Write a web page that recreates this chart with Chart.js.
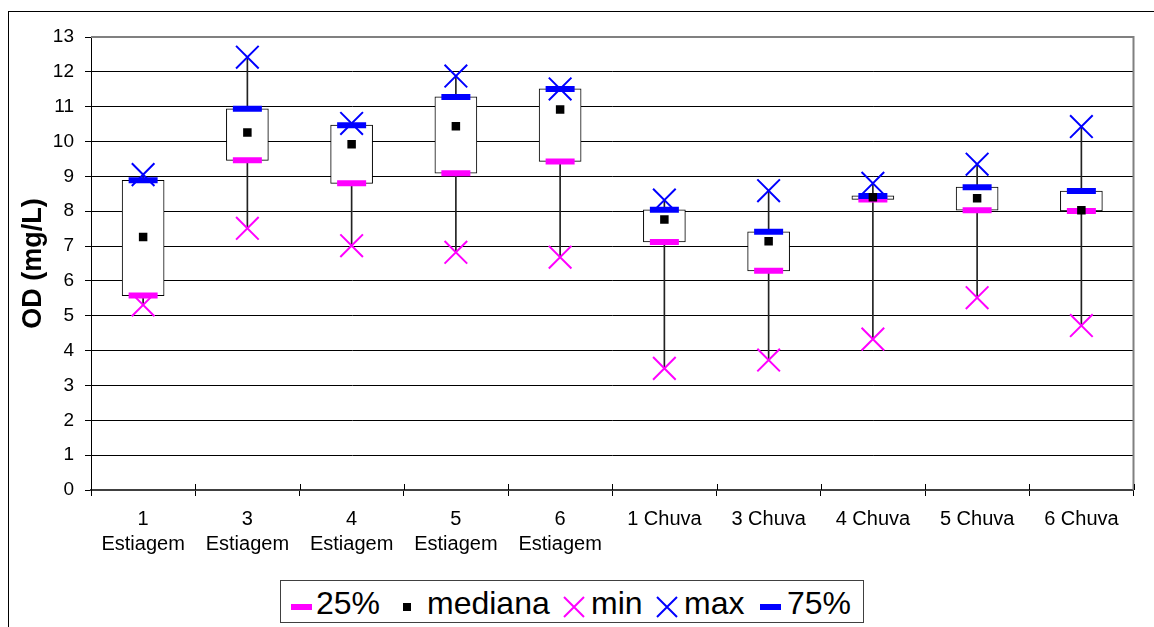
<!DOCTYPE html>
<html>
<head>
<meta charset="utf-8">
<script src="https://cdn.jsdelivr.net/npm/chart.js@4.4.1/dist/chart.umd.min.js"></script>
<style>
  html, body { margin:0; padding:0; background:#fff; }
  #wrap { position:relative; width:1154px; height:627px; overflow:hidden; font-family:'Liberation Sans', Arial, sans-serif; }
  #frame { position:absolute; left:8px; top:11px; width:1200px; height:700px; border-left:1px solid #000; border-top:1px solid #000; }
  canvas { position:absolute; left:0; top:0; }
  #legend { position:absolute; left:280px; top:580px; width:582px; height:41px; border:1px solid #404040; background:#fff; }
  #legend .t { position:absolute; top:0; height:41px; line-height:45px; font-size:32px; color:#000; white-space:nowrap; }
  #legend .dash { position:absolute; height:6px; top:23px; width:21px; }
  #legend .sq { position:absolute; width:8px; height:8px; top:22px; left:122px; background:#000; }
  #legend svg { position:absolute; top:15px; }
</style>
</head>
<body>
<div id="wrap">
  <div id="frame"></div>
  <canvas id="c" width="1154" height="627"></canvas>
  <div id="legend">
    <div class="dash" style="left:10px;background:#ff00ff"></div>
    <div class="t" style="left:35px">25%</div>
    <div class="sq"></div>
    <div class="t" style="left:146px">mediana</div>
    <svg style="left:282px" width="22" height="22"><path d="M1 1L21 21M21 1L1 21" stroke="#ff00ff" stroke-width="2"/></svg>
    <div class="t" style="left:310px">min</div>
    <svg style="left:375px" width="22" height="22"><path d="M1 1L21 21M21 1L1 21" stroke="#0000ff" stroke-width="2"/></svg>
    <div class="t" style="left:403px">max</div>
    <div class="dash" style="left:479px;background:#0000ff"></div>
    <div class="t" style="left:506px">75%</div>
  </div>
</div>
<script>
const categories = [['1','Estiagem'],['3','Estiagem'],['4','Estiagem'],['5','Estiagem'],['6','Estiagem'],'1 Chuva','3 Chuva','4 Chuva','5 Chuva','6 Chuva'];
const minValues    = [5.31, 7.51, 7.01, 6.82, 6.68, 3.49, 3.73, 4.33, 5.52, 4.72];
const q25Values    = [5.58, 9.46, 8.80, 9.09, 9.43, 7.12, 6.29, 8.34, 8.03, 8.01];
const medianValues = [7.26, 10.26, 9.92, 10.44, 10.92, 7.76, 7.14, 8.40, 8.37, 8.03];
const q75Values    = [8.89, 10.94, 10.47, 11.28, 11.51, 8.04, 7.41, 8.44, 8.69, 8.58];
const maxValues    = [9.05, 12.42, 10.52, 11.88, 11.51, 8.32, 8.59, 8.80, 9.35, 10.43];
const yTicks = [0,1,2,3,4,5,6,7,8,9,10,11,12,13];

const FONT = "'Liberation Sans', Arial, sans-serif";

const plotFrame = {
  id: 'plotFrame',
  beforeDatasetsDraw(chart) {
    const {ctx, chartArea:{left,right,top,bottom}} = chart;
    ctx.save();
    ctx.strokeStyle = '#808080';
    ctx.lineWidth = 2;
    ctx.beginPath();
    ctx.moveTo(left, top); ctx.lineTo(right, top); ctx.lineTo(right, bottom);
    ctx.stroke();
    const n = chart.scales.x.ticks.length;
    const step = (right - left) / n;
    ctx.strokeStyle = '#000';
    ctx.lineWidth = 1;
    ctx.beginPath();
    for (let i = 0; i <= n; i++) {
      const x = Math.round(left + i * step) + 0.5;
      ctx.moveTo(x, bottom - 6); ctx.lineTo(x, bottom);
    }
    ctx.stroke();
    ctx.restore();
  }
};

const pointDs = (label, data, style, color, radius, bw, order) => ({
  type: 'line', label, data, showLine: false, order,
  pointStyle: style, pointRadius: radius, pointHoverRadius: radius,
  pointBorderWidth: bw, pointHoverBorderWidth: bw,
  pointBorderColor: color, pointBackgroundColor: color,
  borderColor: color, backgroundColor: color
});

new Chart(document.getElementById('c'), {
  data: {
    labels: categories,
    datasets: [
      { type:'bar', label:'whisker', data: minValues.map((v,i)=>[v, maxValues[i]]),
        backgroundColor:'#222', borderWidth:0, barThickness:1, grouped:false, order:20 },
      { type:'bar', label:'box', data: q25Values.map((v,i)=>[v, q75Values[i]]),
        backgroundColor:'#fff', borderColor:'#000', borderWidth:1, borderSkipped:false,
        barThickness:42, grouped:false, order:19 },
      pointDs('25%', q25Values, 'line', '#ff00ff', 14.5, 6, 5),
      pointDs('75%', q75Values, 'line', '#0000ff', 14.5, 6, 4),
      pointDs('mediana', medianValues, 'rect', '#000', 6, 0, 3),
      pointDs('min', minValues, 'crossRot', '#ff00ff', 16, 2, 2),
      pointDs('max', maxValues, 'crossRot', '#0000ff', 16, 2, 1)
    ]
  },
  options: {
    responsive: false,
    animation: false,
    events: [],
    layout: { padding: { left: 10, top: 37, right: 19, bottom: 57 } },
    plugins: { legend: { display:false }, tooltip: { enabled:false } },
    scales: {
      x: {
        type: 'category', offset: true,
        grid: { display:true, drawOnChartArea:false, offset:true, tickLength:6, color:'#000' },
        border: { display:true, color:'#404040', width:2 },
        ticks: { autoSkip:false, maxRotation:0, minRotation:0, padding:11, color:'#000',
                 font: { family: FONT, size: 20, lineHeight: 1.25 } },
        afterFit(s) { s.height = 80; }
      },
      y: {
        min: 0, max: 13,
        afterBuildTicks(s) { s.ticks = yTicks.map(v => ({ value: v })); },
        grid: { color:'#000', lineWidth:1, tickLength:6 },
        border: { display:true, color:'#000', width:1 },
        ticks: { padding:11, color:'#000', font: { family: FONT, size: 19 } },
        title: { display:true, text:'OD (mg/L)', color:'#000', padding:{ top:7, bottom:0 },
                 font: { family: FONT, size: 27, weight:'bold', lineHeight:1.2 } },
        afterFit(s) { s.width = 81; }
      }
    }
  },
  plugins: [plotFrame]
});
</script>
</body>
</html>
